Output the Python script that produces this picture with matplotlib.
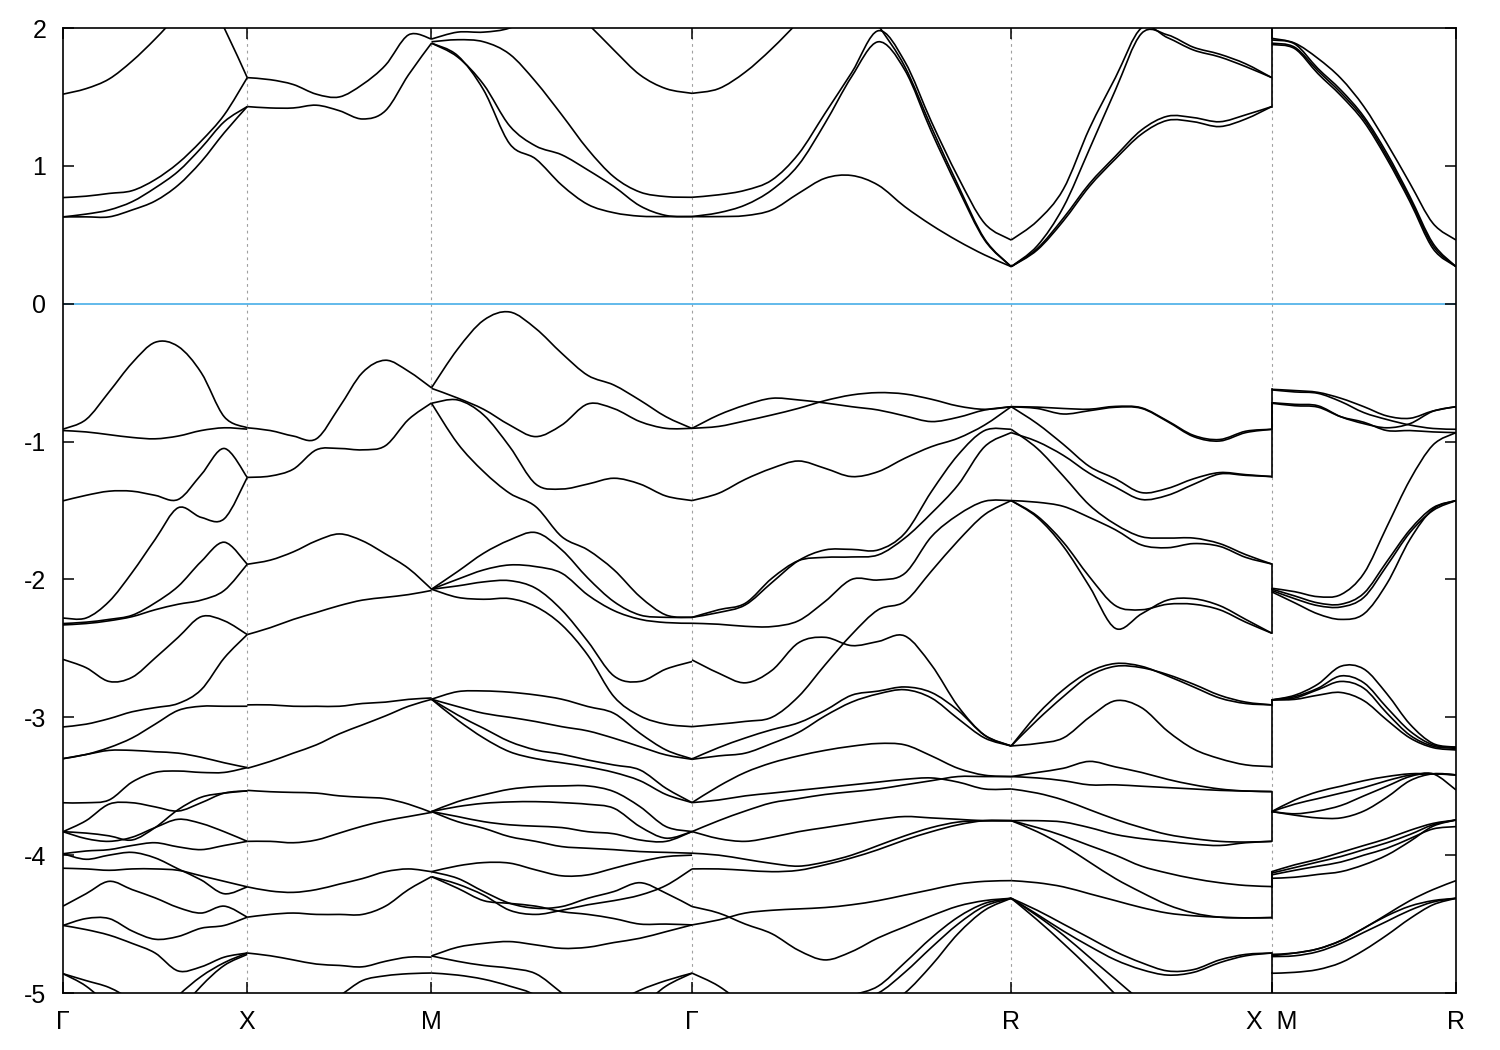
import numpy as np
import matplotlib
matplotlib.use("Agg")
import matplotlib.pyplot as plt
from matplotlib.path import Path
from matplotlib.patches import PathPatch

plt.rcParams["font.family"] = ["Liberation Sans", "DejaVu Sans"]

# high-symmetry points along the k-path
k_nodes = [0.0, 0.5, 1.0, 1.7071, 2.5731, 3.2802, 3.7802]
k_labels = ["Γ", "X", "M", "Γ", "R", "X  M", "R"]
segments = [(0.0, 0.5), (0.5, 1.0), (1.0, 1.7071), (1.7071, 2.5731),
            (2.5731, 3.2802), (3.2802, 3.7802)]

# band energies (eV) sampled evenly along each segment
bands_GX = [
    [1.52, 1.56, 1.63, 1.76, 1.92, 2.1, 2.3, 2.5, 2.7],
    [3.2, 3.0, 2.9, 2.8, 2.7, 2.55, 2.32, 2.0, 1.64],
    [0.77, 0.78, 0.80, 0.82, 0.90, 1.02, 1.18, 1.37, 1.64],
    [0.63, 0.65, 0.68, 0.74, 0.84, 0.96, 1.13, 1.32, 1.43],
    [0.63, 0.63, 0.63, 0.68, 0.745, 0.86, 1.03, 1.24, 1.43],
    [-0.91, -0.84, -0.64, -0.43, -0.28, -0.31, -0.50, -0.82, -0.90],
    [-0.92, -0.93, -0.95, -0.97, -0.98, -0.96, -0.92, -0.90, -0.91],
    [-1.43, -1.39, -1.36, -1.36, -1.39, -1.42, -1.24, -1.05, -1.26],
    [-2.28, -2.28, -2.16, -1.95, -1.71, -1.48, -1.55, -1.56, -1.26],
    [-2.32, -2.31, -2.29, -2.26, -2.17, -2.05, -1.87, -1.73, -1.89],
    [-2.33, -2.32, -2.30, -2.27, -2.22, -2.18, -2.15, -2.08, -1.89],
    [-2.58, -2.64, -2.74, -2.71, -2.57, -2.42, -2.27, -2.30, -2.40],
    [-3.07, -3.05, -3.01, -2.96, -2.93, -2.90, -2.80, -2.57, -2.40],
    [-3.30, -3.27, -3.22, -3.15, -3.05, -2.95, -2.92, -2.92, -2.92],
    [-3.30, -3.27, -3.24, -3.24, -3.25, -3.26, -3.29, -3.33, -3.365],
    [-3.62, -3.62, -3.60, -3.47, -3.40, -3.39, -3.40, -3.40, -3.365],
    [-3.83, -3.88, -3.90, -3.87, -3.80, -3.74, -3.77, -3.83, -3.90],
    [-3.83, -3.84, -3.86, -3.89, -3.80, -3.67, -3.58, -3.55, -3.534],
    [-3.83, -3.75, -3.63, -3.62, -3.65, -3.68, -3.62, -3.55, -3.534],
    [-3.99, -3.97, -3.96, -3.93, -3.91, -3.94, -3.96, -3.93, -3.90],
    [-3.99, -4.03, -4.00, -3.98, -4.02, -4.10, -4.18, -4.28, -4.23],
    [-4.095, -4.10, -4.11, -4.10, -4.10, -4.11, -4.15, -4.19, -4.23],
    [-4.37, -4.28, -4.19, -4.25, -4.31, -4.38, -4.42, -4.37, -4.45],
    [-4.51, -4.46, -4.46, -4.55, -4.61, -4.59, -4.53, -4.51, -4.45],
    [-4.51, -4.54, -4.58, -4.64, -4.71, -4.84, -4.81, -4.74, -4.71],
    [-4.86, -4.91, -4.96, -5.05, -5.15, -5.25, -5.35, -5.4, -5.45],
    [-4.86, -4.95, -5.1, -5.3, -5.5, -5.7, -5.8, -5.9, -6.0],
    [-6.0, -5.8, -5.6, -5.4, -5.2, -5.02, -4.88, -4.78, -4.71],
    [-6.0, -5.9, -5.8, -5.6, -5.4, -5.15, -4.95, -4.80, -4.72],
]

bands_XM = [
    [1.64, 1.625, 1.59, 1.52, 1.50, 1.59, 1.73, 1.95, 1.92],
    [1.43, 1.42, 1.42, 1.44, 1.40, 1.34, 1.40, 1.66, 1.89],
    [-0.90, -0.92, -0.96, -0.98, -0.75, -0.50, -0.41, -0.49, -0.61],
    [-1.26, -1.25, -1.20, -1.06, -1.05, -1.06, -1.03, -0.84, -0.72],
    [-1.89, -1.86, -1.80, -1.72, -1.67, -1.72, -1.815, -1.92, -2.07],
    [-2.40, -2.35, -2.29, -2.24, -2.19, -2.15, -2.13, -2.11, -2.08],
    [-2.91, -2.91, -2.92, -2.92, -2.92, -2.90, -2.89, -2.87, -2.86],
    [-3.37, -3.32, -3.26, -3.20, -3.12, -3.055, -2.99, -2.92, -2.87],
    [-3.53, -3.54, -3.545, -3.55, -3.57, -3.58, -3.59, -3.63, -3.69],
    [-3.90, -3.90, -3.91, -3.89, -3.84, -3.79, -3.75, -3.72, -3.69],
    [-4.23, -4.26, -4.27, -4.25, -4.21, -4.17, -4.12, -4.10, -4.12],
    [-4.45, -4.43, -4.42, -4.43, -4.43, -4.43, -4.37, -4.25, -4.156],
    [-4.71, -4.73, -4.76, -4.79, -4.80, -4.81, -4.77, -4.74, -4.74],
    [-5.3, -5.25, -5.2, -5.1, -5.02, -4.91, -4.875, -4.86, -4.855],
]

bands_MG = [
    [1.92, 1.97, 1.97, 2.0, 2.1, 2.2, 2.3, 2.4, 2.5, 2.6, 2.6],
    [1.90, 1.915, 1.90, 1.81, 1.61, 1.37, 1.12, 0.92, 0.81, 0.777, 0.772],
    [1.89, 1.79, 1.59, 1.29, 1.144, 1.08, 0.97, 0.85, 0.71, 0.64, 0.632],
    [1.89, 1.80, 1.55, 1.16, 1.05, 0.86, 0.72, 0.66, 0.635, 0.632, 0.632],
    [2.8, 2.7, 2.6, 2.5, 2.4, 2.2, 2.03, 1.84, 1.66, 1.56, 1.526],
    [-0.61, -0.33, -0.12, -0.06, -0.18, -0.36, -0.52, -0.59, -0.70, -0.82, -0.905],
    [-0.614, -0.684, -0.766, -0.88, -0.964, -0.88, -0.727, -0.761, -0.855, -0.904, -0.904],
    [-0.722, -0.698, -0.807, -1.037, -1.308, -1.344, -1.308, -1.266, -1.308, -1.395, -1.428],
    [-0.722, -1.013, -1.218, -1.375, -1.472, -1.69, -1.786, -1.93, -2.125, -2.258, -2.275],
    [-2.071, -1.943, -1.81, -1.714, -1.66, -1.786, -1.99, -2.161, -2.258, -2.275, -2.275],
    [-2.071, -1.999, -1.931, -1.895, -1.907, -1.955, -2.113, -2.226, -2.289, -2.313, -2.318],
    [-2.071, -2.047, -2.018, -2.009, -2.064, -2.222, -2.45, -2.70, -2.74, -2.65, -2.596],
    [-2.071, -2.13, -2.144, -2.139, -2.197, -2.33, -2.55, -2.85, -2.99, -3.05, -3.068],
    [-2.869, -2.814, -2.809, -2.818, -2.838, -2.869, -2.922, -2.971, -3.116, -3.237, -3.302],
    [-2.869, -2.922, -2.971, -3.0, -3.031, -3.068, -3.099, -3.152, -3.213, -3.273, -3.305],
    [-2.869, -2.983, -3.08, -3.176, -3.237, -3.268, -3.31, -3.346, -3.382, -3.515, -3.619],
    [-2.869, -3.02, -3.15, -3.25, -3.30, -3.33, -3.36, -3.40, -3.46, -3.56, -3.619],
    [-3.684, -3.612, -3.563, -3.522, -3.503, -3.498, -3.498, -3.539, -3.648, -3.793, -3.829],
    [-3.684, -3.648, -3.624, -3.614, -3.612, -3.619, -3.631, -3.66, -3.793, -3.877, -3.829],
    [-3.684, -3.72, -3.757, -3.78, -3.79, -3.80, -3.83, -3.845, -3.89, -3.90, -3.829],
    [-3.684, -3.757, -3.805, -3.866, -3.90, -3.938, -3.95, -3.96, -3.974, -3.98, -3.986],
    [-4.12, -4.078, -4.054, -4.058, -4.107, -4.15, -4.143, -4.095, -4.047, -4.011, -4.0],
    [-4.12, -4.168, -4.264, -4.349, -4.385, -4.373, -4.313, -4.264, -4.2, -4.276, -4.373],
    [-4.156, -4.21, -4.29, -4.40, -4.43, -4.40, -4.36, -4.33, -4.29, -4.22, -4.10],
    [-4.156, -4.24, -4.33, -4.35, -4.37, -4.41, -4.43, -4.46, -4.50, -4.50, -4.506],
    [-4.731, -4.668, -4.64, -4.627, -4.651, -4.676, -4.668, -4.634, -4.603, -4.555, -4.506],
    [-4.731, -4.77, -4.80, -4.82, -4.86, -5.0, -5.15, -5.3, -5.3, -5.2, -5.1],
    [-4.855, -4.87, -4.90, -4.95, -5.02, -5.2, -5.4, -5.5, -5.5, -5.5, -5.5],
    [-5.8, -5.7, -5.6, -5.5, -5.4, -5.3, -5.2, -5.08, -4.98, -4.91, -4.856],
    [-5.9, -5.8, -5.7, -5.6, -5.5, -5.4, -5.3, -5.2, -5.1, -4.95, -4.856],
]

bands_GR = [
    [1.526, 1.56, 1.68, 1.85, 2.05, 2.3, 2.3, 2.02, 1.72, 1.28, 0.86, 0.47, 0.269],
    [0.772, 0.79, 0.823, 0.897, 1.086, 1.381, 1.676, 1.98, 1.756, 1.32, 0.92, 0.583, 0.462],
    [0.632, 0.66, 0.716, 0.825, 1.006, 1.309, 1.647, 1.90, 1.695, 1.248, 0.837, 0.462, 0.269],
    [0.632, 0.632, 0.639, 0.68, 0.80, 0.91, 0.93, 0.86, 0.704, 0.571, 0.455, 0.354, 0.269],
    [-0.904, -0.807, -0.735, -0.686, -0.698, -0.72, -0.747, -0.771, -0.814, -0.855, -0.824, -0.771, -0.747],
    [-0.904, -0.89, -0.85, -0.807, -0.759, -0.703, -0.662, -0.645, -0.655, -0.693, -0.742, -0.766, -0.747],
    [-1.428, -1.375, -1.274, -1.194, -1.141, -1.194, -1.254, -1.218, -1.121, -1.037, -0.976, -0.88, -0.747],
    [-2.275, -2.24, -2.185, -2.023, -1.864, -1.786, -1.782, -1.786, -1.665, -1.363, -1.097, -0.92, -0.911],
    [-2.275, -2.22, -2.173, -1.992, -1.864, -1.84, -1.837, -1.822, -1.70, -1.52, -1.315, -1.037, -0.935],
    [-2.318, -2.325, -2.34, -2.342, -2.30, -2.16, -2.0, -2.004, -1.956, -1.69, -1.532, -1.433, -1.428],
    [-2.584, -2.68, -2.75, -2.66, -2.46, -2.42, -2.48, -2.45, -2.41, -2.62, -2.92, -3.13, -3.208],
    [-3.068, -3.05, -3.03, -3.00, -2.85, -2.62, -2.40, -2.22, -2.16, -1.94, -1.72, -1.53, -1.428],
    [-3.302, -3.22, -3.15, -3.09, -3.04, -2.95, -2.84, -2.81, -2.78, -2.82, -2.95, -3.13, -3.208],
    [-3.305, -3.28, -3.26, -3.19, -3.11, -2.99, -2.89, -2.83, -2.80, -2.86, -3.01, -3.15, -3.208],
    [-3.619, -3.50, -3.40, -3.33, -3.28, -3.24, -3.21, -3.19, -3.20, -3.28, -3.37, -3.42, -3.43],
    [-3.619, -3.60, -3.57, -3.55, -3.53, -3.51, -3.49, -3.47, -3.45, -3.44, -3.47, -3.52, -3.52],
    [-3.829, -3.75, -3.68, -3.62, -3.59, -3.56, -3.54, -3.52, -3.49, -3.46, -3.43, -3.43, -3.43],
    [-3.829, -3.88, -3.90, -3.87, -3.83, -3.80, -3.77, -3.74, -3.72, -3.73, -3.74, -3.75, -3.75],
    [-3.986, -4.0, -4.03, -4.06, -4.08, -4.05, -4.0, -3.93, -3.86, -3.80, -3.76, -3.75, -3.75],
    [-4.10, -4.10, -4.11, -4.12, -4.11, -4.07, -4.02, -3.96, -3.89, -3.83, -3.78, -3.75, -3.75],
    [-4.373, -4.42, -4.50, -4.57, -4.69, -4.76, -4.70, -4.60, -4.52, -4.44, -4.37, -4.33, -4.313],
    [-4.506, -4.47, -4.42, -4.40, -4.39, -4.38, -4.36, -4.33, -4.29, -4.25, -4.21, -4.19, -4.185],
    [-5.6, -5.5, -5.4, -5.3, -5.2, -5.1, -5.02, -4.95, -4.78, -4.60, -4.45, -4.35, -4.313],
    [-5.6, -5.5, -5.4, -5.3, -5.2, -5.1, -5.05, -5.0, -4.85, -4.67, -4.50, -4.37, -4.313],
    [-5.8, -5.7, -5.6, -5.5, -5.4, -5.3, -5.2, -5.12, -5.0, -4.80, -4.57, -4.40, -4.313],
    [-4.856, -4.95, -5.1, -5.3, -5.5, -5.6, -5.7, -5.8, -5.9, -6.0, -6.0, -6.0, -6.0],
]

bands_RX = [
    [0.462, 0.60, 0.83, 1.27, 1.64, 2.0, 1.93, 1.84, 1.79, 1.72, 1.64],
    [0.269, 0.42, 0.70, 1.12, 1.55, 1.96, 1.95, 1.86, 1.81, 1.74, 1.64],
    [0.269, 0.40, 0.62, 0.87, 1.07, 1.26, 1.36, 1.35, 1.32, 1.37, 1.43],
    [0.269, 0.39, 0.60, 0.85, 1.05, 1.23, 1.33, 1.32, 1.285, 1.34, 1.43],
    [-0.747, -0.76, -0.80, -0.776, -0.751, -0.759, -0.855, -0.964, -0.996, -0.935, -0.911],
    [-0.747, -0.75, -0.76, -0.765, -0.745, -0.755, -0.85, -0.955, -0.985, -0.925, -0.911],
    [-0.747, -0.87, -1.02, -1.18, -1.27, -1.37, -1.34, -1.27, -1.225, -1.24, -1.254],
    [-0.935, -1.00, -1.10, -1.23, -1.33, -1.42, -1.39, -1.31, -1.235, -1.245, -1.254],
    [-0.911, -1.05, -1.25, -1.46, -1.60, -1.69, -1.70, -1.70, -1.74, -1.82, -1.888],
    [-1.428, -1.44, -1.47, -1.55, -1.64, -1.75, -1.77, -1.74, -1.76, -1.84, -1.888],
    [-1.428, -1.55, -1.76, -2.05, -2.355, -2.25, -2.15, -2.14, -2.19, -2.29, -2.39],
    [-1.428, -1.54, -1.73, -1.98, -2.19, -2.22, -2.18, -2.18, -2.22, -2.31, -2.39],
    [-3.208, -2.98, -2.80, -2.67, -2.61, -2.63, -2.70, -2.78, -2.86, -2.90, -2.91],
    [-3.208, -3.02, -2.85, -2.70, -2.63, -2.64, -2.69, -2.76, -2.84, -2.89, -2.91],
    [-3.208, -3.19, -3.15, -3.00, -2.88, -2.93, -3.10, -3.23, -3.30, -3.345, -3.358],
    [-3.43, -3.40, -3.37, -3.32, -3.36, -3.40, -3.45, -3.49, -3.52, -3.535, -3.539],
    [-3.43, -3.44, -3.46, -3.49, -3.49, -3.50, -3.51, -3.52, -3.53, -3.535, -3.539],
    [-3.52, -3.55, -3.60, -3.67, -3.74, -3.80, -3.85, -3.88, -3.90, -3.905, -3.90],
    [-3.75, -3.75, -3.76, -3.80, -3.85, -3.88, -3.90, -3.92, -3.93, -3.91, -3.90],
    [-3.75, -3.80, -3.86, -3.93, -4.00, -4.08, -4.13, -4.17, -4.20, -4.22, -4.228],
    [-3.75, -3.83, -3.93, -4.05, -4.17, -4.27, -4.36, -4.42, -4.45, -4.455, -4.453],
    [-4.185, -4.20, -4.23, -4.28, -4.33, -4.38, -4.42, -4.44, -4.45, -4.455, -4.453],
    [-4.313, -4.40, -4.50, -4.60, -4.70, -4.78, -4.84, -4.83, -4.76, -4.72, -4.71],
    [-4.313, -4.43, -4.55, -4.66, -4.76, -4.83, -4.87, -4.85, -4.78, -4.73, -4.71],
    [-4.313, -4.44, -4.58, -4.74, -4.90, -5.06, -5.2, -5.35, -5.5, -5.6, -5.7],
    [-4.313, -4.47, -4.64, -4.82, -5.01, -5.2, -5.35, -5.5, -5.6, -5.7, -5.8],
]

bands_MR = [
    [1.925, 1.89, 1.78, 1.635, 1.43, 1.163, 0.873, 0.583, 0.462],
    [1.913, 1.884, 1.707, 1.55, 1.357, 1.091, 0.777, 0.438, 0.269],
    [1.89, 1.86, 1.69, 1.53, 1.34, 1.07, 0.76, 0.42, 0.269],
    [1.88, 1.85, 1.67, 1.51, 1.32, 1.05, 0.74, 0.40, 0.269],
    [-0.621, -0.63, -0.643, -0.686, -0.747, -0.814, -0.831, -0.778, -0.747],
    [-0.625, -0.64, -0.65, -0.71, -0.79, -0.84, -0.88, -0.905, -0.911],
    [-0.718, -0.73, -0.74, -0.82, -0.87, -0.90, -0.87, -0.78, -0.747],
    [-0.722, -0.74, -0.75, -0.82, -0.86, -0.92, -0.92, -0.93, -0.935],
    [-2.064, -2.089, -2.125, -2.11, -1.956, -1.617, -1.278, -1.025, -0.935],
    [-2.07, -2.12, -2.17, -2.18, -2.10, -1.87, -1.64, -1.48, -1.428],
    [-2.08, -2.14, -2.19, -2.20, -2.13, -1.90, -1.66, -1.50, -1.428],
    [-2.09, -2.17, -2.25, -2.29, -2.25, -2.03, -1.71, -1.49, -1.428],
    [-2.874, -2.84, -2.76, -2.63, -2.65, -2.83, -3.05, -3.19, -3.217],
    [-2.874, -2.85, -2.79, -2.70, -2.75, -2.93, -3.10, -3.20, -3.217],
    [-2.874, -2.86, -2.80, -2.74, -2.79, -2.97, -3.13, -3.21, -3.225],
    [-2.874, -2.87, -2.84, -2.82, -2.88, -3.02, -3.15, -3.22, -3.237],
    [-3.684, -3.60, -3.54, -3.50, -3.46, -3.43, -3.41, -3.41, -3.418],
    [-3.684, -3.63, -3.59, -3.55, -3.51, -3.46, -3.42, -3.41, -3.418],
    [-3.684, -3.71, -3.73, -3.73, -3.68, -3.58, -3.46, -3.41, -3.418],
    [-3.684, -3.70, -3.68, -3.64, -3.57, -3.50, -3.43, -3.41, -3.527],
    [-4.12, -4.07, -4.03, -3.98, -3.93, -3.88, -3.82, -3.77, -3.745],
    [-4.13, -4.09, -4.05, -4.01, -3.96, -3.91, -3.85, -3.78, -3.745],
    [-4.143, -4.11, -4.08, -4.05, -4.00, -3.95, -3.88, -3.81, -3.793],
    [-4.168, -4.16, -4.14, -4.12, -4.07, -4.00, -3.90, -3.79, -3.745],
    [-4.736, -4.73, -4.70, -4.64, -4.56, -4.48, -4.40, -4.34, -4.313],
    [-4.72, -4.71, -4.68, -4.62, -4.53, -4.44, -4.37, -4.33, -4.313],
    [-4.73, -4.71, -4.68, -4.62, -4.53, -4.43, -4.33, -4.25, -4.185],
    [-4.857, -4.85, -4.83, -4.78, -4.69, -4.58, -4.46, -4.36, -4.313],
]

# energies joined across the X|M break of the path
xm_jumps = [(1.43, 2.3), (-0.621, -0.911), (-0.722, -1.254), (-2.07, -1.888),
            (-2.07, -2.39), (-2.874, -2.91), (-2.874, -3.358), (-3.684, -3.539),
            (-3.684, -3.90), (-4.12, -4.228), (-4.12, -4.453), (-4.857, -4.71),
            (-4.857, -5.2)]

all_bands = [bands_GX, bands_XM, bands_MG, bands_GR, bands_RX, bands_MR]


def smooth_path(x, y):
    # cubic Bezier through the sampled points (Catmull-Rom tangents)
    p = np.column_stack([x, y])
    n = len(p)
    verts = [p[0]]
    codes = [Path.MOVETO]
    for i in range(n - 1):
        p0 = p[max(i - 1, 0)]
        p3 = p[min(i + 2, n - 1)]
        c1 = p[i] + (p[i + 1] - p0) / 6.0
        c2 = p[i + 1] - (p3 - p[i]) / 6.0
        verts += [c1, c2, p[i + 1]]
        codes += [Path.CURVE4] * 3
    return Path(verts, codes)


fig = plt.figure(figsize=(15, 10.5), dpi=100)
ax = fig.add_axes([63 / 1500, 57 / 1050, 1393 / 1500, 965 / 1050])

for k in k_nodes[1:-1]:
    ax.axvline(k, color="#a0a0a0", lw=0.8, ls=(0, (2.5, 3.5)), zorder=0)

ax.axhline(0, color="#56b4e9", lw=1.3, zorder=1)

for (k0, k1), bands in zip(segments, all_bands):
    for b in bands:
        k = np.linspace(k0, k1, len(b))
        ax.add_patch(PathPatch(smooth_path(k, b), fill=False, edgecolor="black",
                               lw=1.2, joinstyle="round", zorder=2))

for e0, e1 in xm_jumps:
    ax.plot([k_nodes[5], k_nodes[5]], [e0, e1], color="black", lw=1.2, zorder=2)

ax.set_xlim(0, k_nodes[-1])
ax.set_ylim(-5, 2)
ax.set_xticks(k_nodes)
ax.set_xticklabels(k_labels)
ax.set_yticks(range(-5, 3))
ax.set_yticklabels([str(v) for v in range(-5, 3)])
ax.tick_params(direction="in", length=8, width=1.1, top=True, right=True,
               labelsize=18)
ax.tick_params(axis="y", pad=12)
ax.tick_params(axis="x", pad=12)
for s in ax.spines.values():
    s.set_linewidth(1.2)

fig.savefig("out.png", dpi=100)
